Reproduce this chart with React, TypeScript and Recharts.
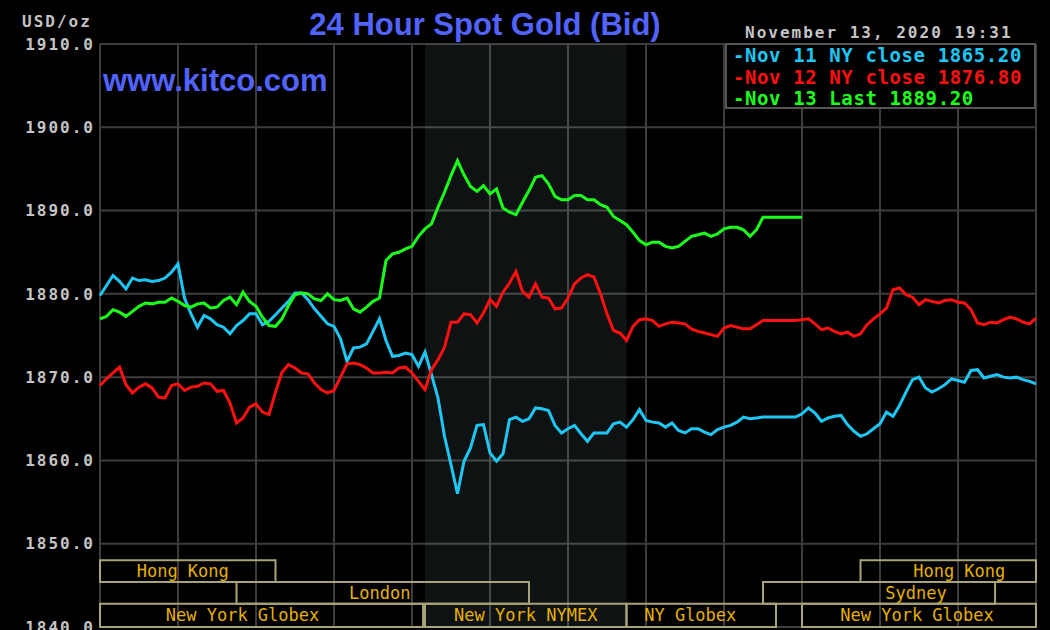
import { LineChart, Line, XAxis, YAxis, CartesianGrid, ReferenceArea } from "recharts";

// one sample every 10 minutes over the 24 hour window
const STEP_MINUTES = 10;
const hourTicks = [0, 120, 240, 360, 480, 600, 720, 840, 960, 1080, 1200, 1320, 1440];
const priceTicks = [1840, 1850, 1860, 1870, 1880, 1890, 1900, 1910];

const nov11 = [
  1879.8, 1881.0, 1882.2, 1881.5, 1880.6, 1881.9, 1881.6, 1881.7, 1881.5, 1881.6,
  1881.9, 1882.6, 1883.6, 1879.5, 1877.6, 1876.0, 1877.4, 1877.0, 1876.3, 1876.0,
  1875.2, 1876.2, 1876.8, 1877.6, 1877.6, 1876.3, 1876.7, 1877.5, 1878.3, 1879.1,
  1880.1, 1880.1, 1879.3, 1878.2, 1877.3, 1876.4, 1876.1, 1874.6, 1871.9, 1873.5,
  1873.6, 1874.0, 1875.5, 1877.0, 1874.4, 1872.5, 1872.6, 1872.9, 1872.7, 1871.3,
  1873.0, 1870.3, 1867.5, 1862.9, 1859.5, 1856.0, 1859.9, 1861.5, 1864.2, 1864.3,
  1860.9, 1859.9, 1860.8, 1864.9, 1865.2, 1864.7, 1865.0, 1866.3, 1866.2, 1866.0,
  1864.2, 1863.3, 1863.8, 1864.2, 1863.2, 1862.3, 1863.3, 1863.3, 1863.3, 1864.4,
  1864.6, 1864.0, 1864.9, 1866.1, 1864.8, 1864.6, 1864.5, 1864.0, 1864.5, 1863.6,
  1863.3, 1863.8, 1863.8, 1863.4, 1863.1, 1863.7, 1864.0, 1864.2, 1864.6, 1865.2,
  1865.0, 1865.1, 1865.2, 1865.2, 1865.2, 1865.2, 1865.2, 1865.2, 1865.6, 1866.3,
  1865.7, 1864.7, 1865.1, 1865.3, 1865.4, 1864.3, 1863.5, 1862.9, 1863.2, 1863.8,
  1864.4, 1865.8, 1865.3, 1866.6, 1868.2, 1869.7, 1870.0, 1868.7, 1868.2, 1868.6,
  1869.1, 1869.8, 1869.6, 1869.4, 1870.8, 1870.9, 1869.9, 1870.1, 1870.3, 1870.0,
  1869.9, 1870.0, 1869.7, 1869.5, 1869.2,
];

const nov12 = [
  1869.0, 1869.8, 1870.5, 1871.2, 1869.1, 1868.1, 1868.8, 1869.2, 1868.7, 1867.6,
  1867.5, 1869.0, 1869.2, 1868.4, 1868.8, 1868.9, 1869.3, 1869.2, 1868.3, 1868.4,
  1866.9, 1864.5, 1865.1, 1866.4, 1866.8, 1865.8, 1865.5, 1868.2, 1870.6, 1871.5,
  1871.1, 1870.5, 1870.4, 1869.3, 1868.5, 1868.1, 1868.4, 1870.0, 1871.6, 1871.7,
  1871.5, 1871.1, 1870.5, 1870.5, 1870.6, 1870.5, 1871.1, 1871.2, 1870.5, 1869.5,
  1868.5, 1870.9, 1872.1, 1873.6, 1876.6, 1876.6, 1877.6, 1877.5, 1876.5, 1877.7,
  1879.3, 1878.5, 1880.2, 1881.3, 1882.7, 1880.3, 1879.6, 1881.2, 1879.6, 1879.5,
  1878.2, 1878.3, 1879.5, 1881.2, 1881.9, 1882.3, 1882.0, 1880.0, 1877.6, 1875.6,
  1875.3, 1874.4, 1876.1, 1876.9, 1877.0, 1876.8, 1876.1, 1876.4, 1876.6, 1876.5,
  1876.4, 1875.8, 1875.5, 1875.3, 1875.1, 1874.9, 1875.9, 1876.2, 1876.0, 1875.8,
  1875.8, 1876.3, 1876.8, 1876.8, 1876.8, 1876.8, 1876.8, 1876.8, 1876.9, 1877.0,
  1876.4, 1875.7, 1875.9, 1875.5, 1875.2, 1875.4, 1874.9, 1875.2, 1876.3, 1877.0,
  1877.6, 1878.3, 1880.5, 1880.7, 1879.9, 1879.6, 1878.7, 1879.3, 1879.1, 1878.9,
  1879.2, 1879.3, 1879.0, 1878.9, 1878.1, 1876.5, 1876.3, 1876.6, 1876.5, 1876.9,
  1877.2, 1877.0, 1876.6, 1876.4, 1877.1,
];

// today's line stops at 18:00
const nov13 = [
  1877.0, 1877.3, 1878.1, 1877.8, 1877.3, 1877.9, 1878.5, 1878.9, 1878.8, 1879.0,
  1879.0, 1879.5, 1879.1, 1878.6, 1878.4, 1878.8, 1878.9, 1878.3, 1878.4, 1879.2,
  1879.6, 1878.7, 1880.2, 1879.1, 1878.5, 1877.2, 1876.2, 1876.1, 1877.0, 1878.6,
  1879.9, 1880.1, 1880.0, 1879.4, 1879.2, 1880.0, 1879.3, 1879.2, 1879.5, 1878.2,
  1877.8, 1878.4, 1879.1, 1879.5, 1884.0, 1884.8, 1885.0, 1885.4, 1885.7, 1886.9,
  1887.8, 1888.4, 1890.4, 1892.2, 1894.2, 1896.0, 1894.3, 1892.9, 1892.3, 1893.0,
  1892.0, 1892.6, 1890.3, 1889.8, 1889.5, 1891.0, 1892.4, 1894.0, 1894.2, 1893.2,
  1891.7, 1891.3, 1891.3, 1891.8, 1891.8, 1891.3, 1891.3, 1890.7, 1890.4, 1889.3,
  1888.8, 1888.3, 1887.4, 1886.4, 1885.9, 1886.2, 1886.2, 1885.7, 1885.5, 1885.7,
  1886.3, 1886.9, 1887.1, 1887.3, 1886.9, 1887.2, 1887.8, 1888.0, 1888.0, 1887.7,
  1886.9, 1887.7, 1889.2, 1889.2, 1889.2, 1889.2, 1889.2, 1889.2, 1889.2,
];

const seriesKeys = ["nov11", "nov12", "nov13"];
const seriesColors = ["#1ec6f4", "#ff1010", "#1cff1c"];
const legendLabels = ["Nov 11 NY close", "Nov 12 NY close", "Nov 13 Last"];
const legendValues = [1865.2, 1876.8, 1889.2];

// NYMEX pit hours, in minutes from the left edge
const nymexFrom = 500;
const nymexTo = 810;

const sessionNames = ["Hong Kong", "Hong Kong", "London", "Sydney", "New York Globex", "New York NYMEX", "NY Globex", "New York Globex"];
const sessionFrom = [0, 1170, 210, 1020, 0, 500, 810, 1080];
const sessionTo = [270, 1440, 660, 1377, 497, 810, 1040, 1440];
const sessionRow = [0, 0, 1, 1, 2, 2, 2, 2];
const rowEdges = [1848.0, 1845.4, 1842.8, 1840.0];
// the labels are not always centred in their box
const labelNudge = [-5, 11, -3, 37, -19, 0, -11, -2];

const mono = "'DejaVu Sans Mono', monospace";
const sans = "'Liberation Sans', Arial, sans-serif";

export default function App() {
  const rows = nov11.map((v, i) => ({
    t: i * STEP_MINUTES,
    nov11: v,
    nov12: nov12[i],
    nov13: i < nov13.length ? nov13[i] : null,
  }));

  return (
    <div style={{ position: "absolute", left: 0, top: 0, width: 1050, height: 630, background: "#000", overflow: "hidden" }}>
      <LineChart width={1050} height={630} data={rows} margin={{ top: 44, right: 14, bottom: 3, left: 0 }}>
        <CartesianGrid stroke="#3d3d3d" strokeWidth={2} />
        <XAxis type="number" dataKey="t" domain={[0, 1440]} ticks={hourTicks} hide />
        <YAxis
          type="number"
          domain={[1840, 1910]}
          ticks={priceTicks}
          interval={0}
          width={100}
          axisLine={false}
          tickLine={false}
          tickSize={0}
          tickMargin={5}
          tickFormatter={(v: number) => v.toFixed(1)}
          tick={{ fill: "#c4c4c4", fontSize: 16, fontFamily: mono, fontWeight: "bold", letterSpacing: 2 }}
        />
        <ReferenceArea x1={nymexFrom} x2={nymexTo} y1={1840} y2={1910} fill="#bfe0e0" fillOpacity={0.08} stroke="none" />
        {sessionNames.map((name, i) => (
          <ReferenceArea
            key={i}
            x1={sessionFrom[i]}
            x2={sessionTo[i]}
            y1={rowEdges[sessionRow[i]]}
            y2={rowEdges[sessionRow[i] + 1]}
            fill="none"
            stroke="#a8a478"
            strokeWidth={2}
            label={{ value: name, position: "center", dx: labelNudge[i], fill: "#e6b000", fontSize: 17, fontFamily: mono }}
          />
        ))}
        {seriesKeys.map((k, i) => (
          <Line
            key={k}
            type="linear"
            dataKey={k}
            stroke={seriesColors[i]}
            strokeWidth={3}
            dot={false}
            activeDot={false}
            isAnimationActive={false}
          />
        ))}
      </LineChart>

      <div style={{ position: "absolute", left: 22, top: 13.5, fontFamily: mono, fontWeight: "bold", fontSize: 16, lineHeight: "16px", letterSpacing: 2, color: "#c4c4c4" }}>
        USD/oz
      </div>
      <div style={{ position: "absolute", left: 485, top: 8.75, transform: "translateX(-50%)", whiteSpace: "nowrap", fontFamily: sans, fontWeight: "bold", fontSize: 31, lineHeight: "31px", color: "#5263ff" }}>
        24 Hour Spot Gold (Bid)
      </div>
      <div style={{ position: "absolute", left: 103, top: 64.75, whiteSpace: "nowrap", fontFamily: sans, fontWeight: "bold", fontSize: 31, lineHeight: "31px", color: "#5263ff" }}>
        www.kitco.com
      </div>
      <div style={{ position: "absolute", left: 745, top: 24.5, whiteSpace: "nowrap", fontFamily: mono, fontWeight: "bold", fontSize: 16, lineHeight: "16px", letterSpacing: 2, color: "#c4c4c4" }}>
        November 13, 2020 19:31
      </div>
      <div style={{ position: "absolute", left: 725, top: 43, width: 311, height: 66, boxSizing: "border-box", border: "2px solid #555", background: "#000" }}>
        {legendLabels.map((lab, i) => (
          <div
            key={lab}
            style={{ position: "absolute", left: 6, top: i * 21.5, whiteSpace: "nowrap", fontFamily: mono, fontWeight: "bold", fontSize: 19, lineHeight: "21px", letterSpacing: 0.6, color: seriesColors[i] }}
          >
            {"-" + lab + " " + legendValues[i].toFixed(2)}
          </div>
        ))}
      </div>
    </div>
  );
}
